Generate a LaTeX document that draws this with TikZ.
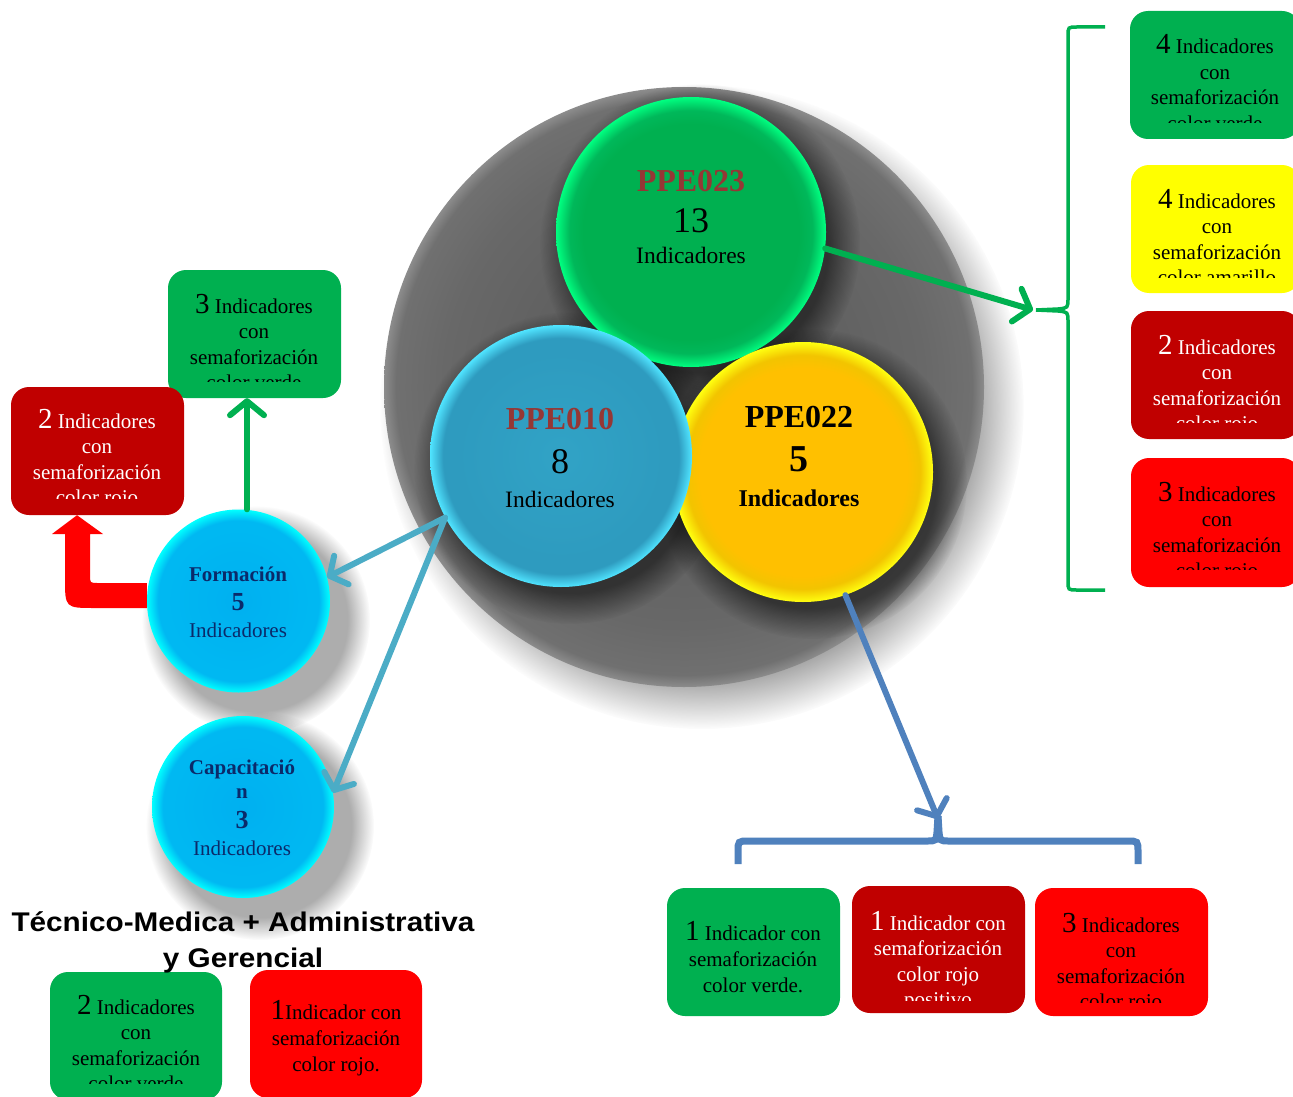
\documentclass[tikz,border=0pt]{standalone}
\usepackage{fontspec}
\setmainfont{Liberation Serif}
\newfontfamily\headfont[FakeStretch=1.1]{Liberation Sans}
\usetikzlibrary{arrows.meta,fadings}

\definecolor{cgreen}{HTML}{00B050}
\definecolor{cdred}{HTML}{C00000}
\definecolor{cred}{HTML}{FF0000}
\definecolor{cyellow}{HTML}{FFFF00}
\definecolor{cblueA}{HTML}{4BACC6}
\definecolor{cblueB}{HTML}{4F81BD}
\definecolor{ppered}{HTML}{953735}
\definecolor{navy}{HTML}{0B2A6A}
% shading colours
\definecolor{gA}{HTML}{00B050}\definecolor{gB}{HTML}{00B85A}\definecolor{gC}{HTML}{00FF80}
\definecolor{bA}{HTML}{31A3C6}\definecolor{bB}{HTML}{2E9BBF}\definecolor{bC}{HTML}{50E4FF}
\definecolor{yA}{HTML}{FFC000}\definecolor{yB}{HTML}{F2C400}\definecolor{yC}{HTML}{FFFF10}
\definecolor{cA}{HTML}{00B0F0}\definecolor{cB}{HTML}{00B8F2}\definecolor{cC}{HTML}{00FFFF}
\definecolor{kA}{HTML}{5A5A5A}\definecolor{kB}{HTML}{606060}\definecolor{kC}{HTML}{686868}\definecolor{kD}{HTML}{707070}\definecolor{kE}{HTML}{8C8C8C}

\pgfdeclareradialshading{shgreen}{\pgfpoint{0bp}{0bp}}{color(0bp)=(gA);color(20bp)=(gA);color(22.5bp)=(gB);color(25bp)=(gC);color(50bp)=(gC)}
\pgfdeclareradialshading{shblue}{\pgfpoint{0bp}{0bp}}{color(0bp)=(bA);color(20bp)=(bB);color(22.5bp)=(bB);color(25bp)=(bC);color(50bp)=(bC)}
\pgfdeclareradialshading{shyellow}{\pgfpoint{0bp}{0bp}}{color(0bp)=(yA);color(20bp)=(yA);color(22.5bp)=(yB);color(25bp)=(yC);color(50bp)=(yC)}
\pgfdeclareradialshading{shcyan}{\pgfpoint{0bp}{0bp}}{color(0bp)=(cA);color(20bp)=(cB);color(22bp)=(cB);color(25bp)=(cC);color(50bp)=(cC)}
\pgfdeclareradialshading{shgray}{\pgfpoint{0bp}{0bp}}{color(0bp)=(kA);color(12bp)=(kB);color(20bp)=(kC);color(24bp)=(kD);color(25bp)=(kE);color(50bp)=(kE)}

\newcommand\bigd[1]{{\fontsize{29}{29}\selectfont #1}}
\newcommand\fourlines[9]{%
  \node[bt,text=#5] (#1-1) at (#2,#3) {#6};
  \node[bt,text=#5] (#1-2) at (#2,#3+25.5) {#7};
  \node[bt,text=#5] (#1-3) at (#2,#3+51) {#8};
  \begin{scope}\clip (#2-90,#3) rectangle (#2+90,#4);
  \node[bt,text=#5] (#1-4) at (#2,#3+76.5) {#9};\end{scope}}
\newcommand\threelines[7]{%
  \node[bt,text=#4] (#1-1) at (#2,#3) {#5};
  \node[bt,text=#4] (#1-2) at (#2,#3+26) {#6};
  \node[bt,text=#4] (#1-3) at (#2,#3+52) {#7};}

\begin{document}
\begin{tikzpicture}[x=1pt,y=-1pt,
  bx/.style={rectangle, rounded corners=18pt, draw=none, inner sep=0pt},
  bt/.style={anchor=base, inner sep=0pt, font=\fontsize{21}{25}\selectfont},
  ct/.style={anchor=base, inner sep=0pt},
  ball/.style={circle, inner sep=0pt, draw=none},
  softshadow/.style={fill=black, fill opacity=#1, path fading=circle with fuzzy edge 20 percent},
  garrow/.style={draw=cgreen, line width=6pt, line cap=round, -{Straight Barb[length=14pt,width=34pt,round]}},
  barrowA/.style={draw=cblueA, line width=6pt, line cap=round, -{Straight Barb[length=13pt,width=32pt,round]}},
  barrowB/.style={draw=cblueB, line width=6pt, line cap=round, -{Straight Barb[length=13pt,width=32pt,round]}},
]
\useasboundingbox (0,0) rectangle (1293,1097);
\fill[white] (0,0) rectangle (1293,1097);

% shadows
\fill[softshadow=0.45] (702,407) circle (322);
\fill[softshadow=0.32] (256,620) circle (114);
\fill[softshadow=0.32] (260,826) circle (114);

% big gray circle
\node[ball, minimum size=600pt, shading=shgray] (ring) at (684,387) {};

% coloured circle shadows
\fill[softshadow=0.5] (700,244) circle (160);
\fill[softshadow=0.5] (812,484) circle (155);
\fill[softshadow=0.5] (570,468) circle (156);

% coloured circles
\node[ball, minimum size=270pt, shading=shgreen] (p23) at (691,232) {};
\node[ball, minimum size=260pt, shading=shyellow] (p22) at (803,472) {};
\node[ball, minimum size=262pt, shading=shblue] (p10) at (561,456) {};

\node[ball, minimum size=183pt, shading=shcyan] (form) at (238.5,601) {};
\node[ball, minimum size=182pt, shading=shcyan] (cap) at (243,807) {};

% circle texts
\node[ct, text=ppered, font=\bfseries\fontsize{32}{32}\selectfont] (t23a) at (691,191) {PPE023};
\node[ct, font=\fontsize{36}{36}\selectfont] (t23b) at (691,232) {13};
\node[ct, font=\fontsize{23.5}{24}\selectfont] (t23c) at (691,263) {Indicadores};

\node[ct, text=ppered, font=\bfseries\fontsize{32}{32}\selectfont] (t10a) at (560,429) {PPE010};
\node[ct, font=\fontsize{36}{36}\selectfont] (t10b) at (560,473) {8};
\node[ct, font=\fontsize{23.5}{24}\selectfont] (t10c) at (560,507) {Indicadores};

\node[ct, font=\bfseries\fontsize{32}{32}\selectfont] (t22a) at (799,427) {PPE022};
\node[ct, font=\bfseries\fontsize{38}{38}\selectfont] (t22b) at (799,471) {5};
\node[ct, font=\bfseries\fontsize{24}{24}\selectfont] (t22c) at (799,506) {Indicadores};

\node[ct, text=navy, font=\bfseries\fontsize{21}{21}\selectfont] (tfa) at (238,581) {Formación};
\node[ct, text=navy, font=\bfseries\fontsize{26}{26}\selectfont] (tfb) at (238,610) {5};
\node[ct, text=navy, font=\fontsize{21}{21}\selectfont] (tfc) at (238,637) {Indicadores};

\node[ct, text=navy, font=\bfseries\fontsize{21}{21}\selectfont] (tca) at (242,774) {Capacitació};
\node[ct, text=navy, font=\bfseries\fontsize{21}{21}\selectfont] (tcb) at (242,798) {n};
\node[ct, text=navy, font=\bfseries\fontsize{26}{26}\selectfont] (tcc) at (242,828) {3};
\node[ct, text=navy, font=\fontsize{21}{21}\selectfont] (tcd) at (242,855) {Indicadores};

% right boxes
\node[bx, fill=cgreen, minimum width=170pt, minimum height=128pt] (R1) at (1215,75) {};
\node[bx, fill=cyellow, minimum width=169pt, minimum height=128pt] (R2) at (1215.5,229) {};
\node[bx, fill=cdred, minimum width=169pt, minimum height=128pt] (R3) at (1215.5,375) {};
\node[bx, fill=cred, minimum width=169pt, minimum height=129pt] (R4) at (1215.5,522.5) {};
\fourlines{r1}{1215}{54}{123}{black}{\bigd{4} Indicadores}{con}{semaforización}{color verde}
\fourlines{r2}{1217}{208}{277}{black}{\bigd{4} Indicadores}{con}{semaforización}{color amarillo}
\fourlines{r3}{1217}{354}{422}{white}{\bigd{2} Indicadores}{con}{semaforización}{color rojo}
\fourlines{r4}{1217}{501}{569}{black}{\bigd{3} Indicadores}{con}{semaforización}{color rojo}

% left boxes
\node[bx, fill=cgreen, minimum width=173pt, minimum height=128pt] (L1) at (254.5,334) {};
\node[bx, fill=cdred, minimum width=173pt, minimum height=128pt] (L2) at (97.5,451) {};
\fourlines{l1}{254}{313}{381}{black}{\bigd{3} Indicadores}{con}{semaforización}{color verde}
\fourlines{l2}{97}{428}{498}{white}{\bigd{2} Indicadores}{con}{semaforización}{color rojo}

% bottom-left boxes
\node[bx, fill=cgreen, minimum width=172pt, minimum height=128pt] (B1) at (136,1036) {};
\node[bx, fill=cred, minimum width=172pt, minimum height=128pt] (B2) at (336,1034) {};
\fourlines{b1}{136}{1014}{1083}{black}{\bigd{2} Indicadores}{con}{semaforización}{color verde}
\threelines{b2}{336}{1019}{black}{\bigd{1}Indicador con}{semaforización}{color rojo.}

% bottom-right boxes
\node[bx, fill=cgreen, minimum width=173pt, minimum height=128pt] (C1) at (753.5,952) {};
\node[bx, fill=cdred, minimum width=173pt, minimum height=127pt] (C2) at (938.5,949.5) {};
\node[bx, fill=cred, minimum width=173pt, minimum height=128pt] (C3) at (1121.5,952) {};
\threelines{c1}{753}{940}{black}{\bigd{1} Indicador con}{semaforización}{color verde.}
\fourlines{c2}{938}{930}{1000}{white}{\bigd{1} Indicador con}{semaforización}{color rojo}{positivo}
\fourlines{c3}{1121}{932}{1002}{black}{\bigd{3} Indicadores}{con}{semaforización}{color rojo}

% heading
\node[ct, font=\headfont\bfseries\fontsize{27}{30}\selectfont] (head1) at (243,931) {Técnico-Medica + Administrativa};
\node[ct, font=\headfont\bfseries\fontsize{27}{30}\selectfont] (head2) at (243,967) {y Gerencial};

% green brace (right)
\coordinate (gtip) at (1036,310);
\draw[cgreen, line width=3.5pt] (1105,27) -- (1077,27) .. controls (1068,27) .. (1068,36) -- (1068,298) .. controls (1068,308) .. (1058,309) -- (gtip);
\draw[cgreen, line width=3.5pt] (gtip) -- (1058,311) .. controls (1068,312) .. (1068,322) -- (1068,581) .. controls (1068,590) .. (1077,590) -- (1105,590);

% blue brace (bottom)
\coordinate (btip) at (938,816);
\draw[cblueB, line width=7pt] (738,864) -- (738,852) .. controls (738,841) .. (749,841) -- (927,841) .. controls (936,841) .. (937,832) -- (btip);
\draw[cblueB, line width=7pt] (btip) -- (939,832) .. controls (940,841) .. (949,841) -- (1127,841) .. controls (1138,841) .. (1138,852) -- (1138,864);

% connectors
\draw[garrow] (p23.-7) -- ([xshift=-3pt]gtip);
\draw[barrowB] (p22.-71) -- ([yshift=-3pt]btip);
\draw[barrowA] (p10.208) -- (form.15);
\draw[barrowA] (p10.208) -- (cap.9);
\draw[garrow] ([xshift=8.5pt]form.north) -- ([xshift=-7.5pt]L1.south);

% red bent arrow from Formacion to red box
\fill[cred] (form.west |- 0,583) -- (98,583) .. controls (90,583) .. (90,575) -- (90,534) -- (103,534) -- (L2.south -| 77,0) -- (52,534) -- (65,534) -- (65,578) .. controls (65,608) .. (95,608) -- (form.west |- 0,608) -- cycle;
\end{tikzpicture}
\end{document}
